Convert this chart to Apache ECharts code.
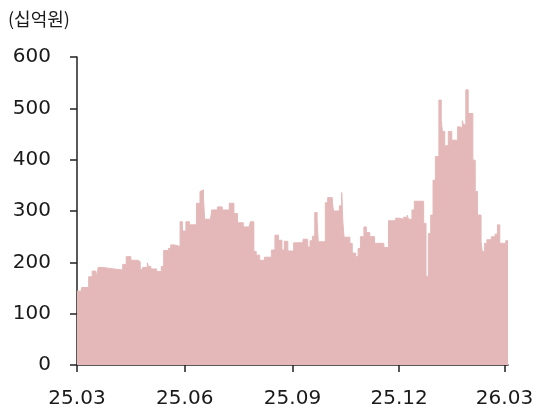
<!DOCTYPE html>
<html>
<head>
<meta charset="utf-8">
<script src="https://cdn.jsdelivr.net/npm/echarts@6/dist/echarts.min.js"></script>
<style>html,body{margin:0;padding:0;background:#fff}#c{width:537px;height:412px}</style>
</head>
<body>
<div id="c"></div>
<script>
const unitLabel = '(십억원)';
const dates = [
 '2025-03-01','2025-03-04','2025-03-05','2025-03-11','2025-03-14','2025-03-17','2025-03-18','2025-03-19','2025-03-23','2025-04-02',
 '2025-04-09','2025-04-12','2025-04-16','2025-04-22','2025-04-24','2025-04-26','2025-04-30','2025-05-01','2025-05-03','2025-05-08',
 '2025-05-12','2025-05-14','2025-05-18','2025-05-20','2025-05-23','2025-05-28','2025-05-30','2025-06-02','2025-06-05','2025-06-11',
 '2025-06-14','2025-06-15','2025-06-17','2025-06-18','2025-06-23','2025-06-24','2025-06-29','2025-07-03','2025-07-09','2025-07-13',
 '2025-07-16','2025-07-21','2025-07-26','2025-07-27','2025-07-30','2025-08-01','2025-08-04','2025-08-08','2025-08-14','2025-08-17',
 '2025-08-20','2025-08-23','2025-08-25','2025-08-28','2025-09-02','2025-09-10','2025-09-14','2025-09-16','2025-09-18','2025-09-20',
 '2025-09-22','2025-09-23','2025-09-29','2025-10-01','2025-10-05','2025-10-06','2025-10-11','2025-10-13','2025-10-14','2025-10-15',
 '2025-10-20','2025-10-22','2025-10-25','2025-10-27','2025-10-29','2025-11-01','2025-11-03','2025-11-06','2025-11-10','2025-11-18',
 '2025-11-22','2025-11-28','2025-12-01','2025-12-05','2025-12-08','2025-12-09','2025-12-12','2025-12-14','2025-12-22','2025-12-24',
 '2025-12-26','2025-12-28','2025-12-30','2026-01-01','2026-01-04','2026-01-06','2026-01-07','2026-01-09','2026-01-12','2026-01-15',
 '2026-01-20','2026-01-22','2026-01-24','2026-01-25','2026-01-27','2026-01-29','2026-02-02','2026-02-04','2026-02-06','2026-02-09',
 '2026-02-10','2026-02-12','2026-02-14','2026-02-17','2026-02-18','2026-02-21','2026-02-23','2026-02-25','2026-02-28','2026-03-02',
 '2026-03-04'
];
const values = [
 144,140,151,172,183,185,172,190,187,185,
 196,211,204,201,186,190,199,192,187,182,
 192,223,227,234,231,279,261,279,273,315,
 338,341,325,284,281,302,308,302,315,295,
 277,269,266,279,221,214,204,210,224,253,
 243,224,241,222,238,245,230,242,251,297,
 282,240,316,326,318,300,310,336,279,249,
 237,218,211,227,250,269,258,250,237,229,
 281,286,284,288,292,284,302,319,276,173,
 256,292,360,406,516,477,455,427,455,438,
 464,461,476,468,536,490,399,338,292,240,
 221,237,244,240,250,255,273,237,236,242,
 242
];
const xTickDates = ['2025-03-01','2025-06-01','2025-09-01','2025-12-01','2026-03-01'];
const xTickLabels = ['25.03','25.06','25.09','25.12','26.03'];

function ts(s){const p=s.split('-').map(Number);return Date.UTC(p[0],p[1]-1,p[2]);}
const tickTs = xTickDates.map(ts);
function fmtX(v){const i=tickTs.indexOf(v);return i>=0?xTickLabels[i]:'';}

const chart = echarts.init(document.getElementById('c'));
const numFont = "'DejaVu Sans', sans-serif";
const krFont = "'Noto Sans CJK KR', sans-serif";
chart.setOption({
  animation:false,
  grid:{left:77,right:29,top:57,bottom:47,containLabel:false},
  graphic:[{type:'text',left:8,top:10,style:{text:unitLabel,fontSize:18,fill:'#1a1a1a',fontFamily:krFont}}],
  xAxis:{
    type:'value',
    min:ts('2025-03-01'),
    max:ts('2026-03-04'),
    splitLine:{show:false},
    axisLine:{lineStyle:{color:'#222',width:1.5}},
    axisTick:{show:true,length:7,lineStyle:{color:'#222',width:1.5},customValues:tickTs},
    axisLabel:{customValues:tickTs,formatter:fmtX,fontSize:20,color:'#1a1a1a',fontFamily:numFont,margin:24,hideOverlap:false}
  },
  yAxis:{
    type:'value',min:0,max:600,interval:100,
    splitLine:{show:false},
    axisLine:{show:true,lineStyle:{color:'#222',width:1.5}},
    axisTick:{show:true,length:7,lineStyle:{color:'#222',width:1.5}},
    axisLabel:{fontSize:20,color:'#1a1a1a',fontFamily:numFont,margin:26}
  },
  series:[{
    type:'line',
    step:'end',
    showSymbol:false,
    data:dates.map((d,i)=>[ts(d),values[i]]),
    lineStyle:{color:'#e4b8b8',width:1},
    areaStyle:{color:'#e4b8b8',opacity:1},
    z:1
  }]
});
</script>
</body>
</html>
